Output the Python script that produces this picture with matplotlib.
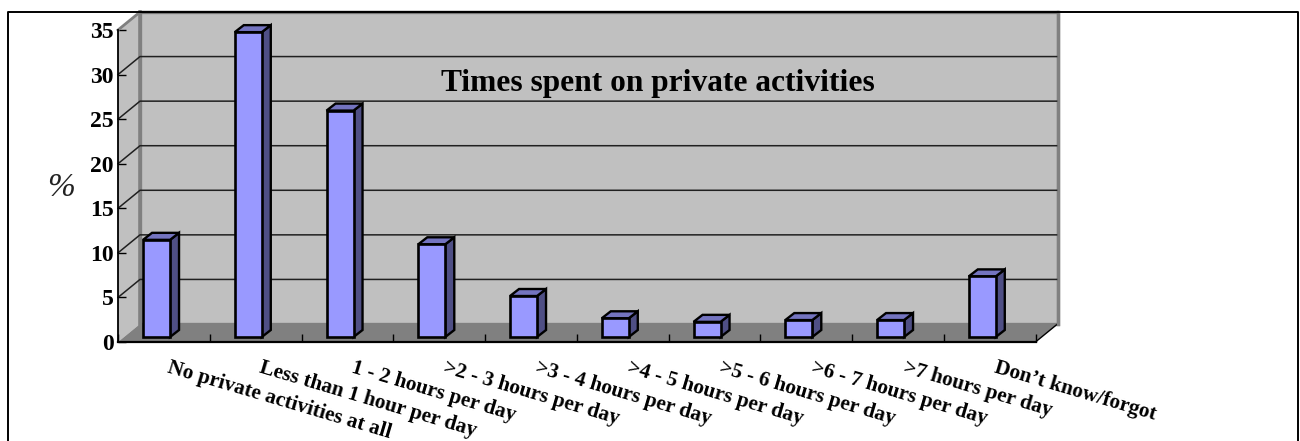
import matplotlib
matplotlib.use("Agg")
import matplotlib.pyplot as plt
from matplotlib.patches import Polygon
from matplotlib.lines import Line2D

categories = ["No private activities at all", "Less than 1 hour per day", "1 - 2 hours per day",
              ">2 - 3 hours per day", ">3 - 4 hours per day", ">4 - 5 hours per day",
              ">5 - 6 hours per day", ">6 - 7 hours per day", ">7 hours per day", "Don\u2019t know/forgot"]
values = [10.9, 34.2, 25.4, 10.4, 4.6, 2.1, 1.7, 1.9, 1.9, 6.8]
yticks = [0, 5, 10, 15, 20, 25, 30, 35]
title = "Times spent on private activities"

W, H = 1300, 441
plt.rcParams['font.family'] = ['Liberation Serif', 'DejaVu Serif']
fig = plt.figure(figsize=(W / 100, H / 100), dpi=100, facecolor='white')

L, R, B, T = 118, 1035.5, 342, 30
ax = fig.add_axes([L / W, 1 - B / H, (R - L) / W, (B - T) / H])
ax.set_xlim(-0.5, 9.5)
ax.set_ylim(0, 35)
ax.patch.set_visible(False)
for s in ax.spines.values():
    s.set_visible(False)

sx = (R - L) / 10      # px per category
sy = (B - T) / 35      # px per unit
DX, DY = 22 / sx, 18 / sy  # chart depth in data units
dx, dy = 9 / sx, 7 / sy    # bar depth
bw = 27 / sx
bo = 0.56                 # bar base lift
xo = -0.08                # bar offset

GRAY = '#c0c0c0'
WALL = '#808080'
FLOOR = '#808080'
x0, x1 = -0.5, 9.5
# walls and floor
ax.add_patch(Polygon([(x0 + DX, DY), (x1 + DX, DY), (x1 + DX, 35 + DY), (x0 + DX, 35 + DY)],
                     fc=GRAY, ec=WALL, lw=2.4, clip_on=False, zorder=1))
ax.add_patch(Polygon([(x0, 0), (x0 + DX, DY), (x0 + DX, 35 + DY), (x0, 35)],
                     fc=GRAY, ec='none', clip_on=False, zorder=1))
ax.add_patch(Polygon([(x0, 0), (x1, 0), (x1 + DX, DY), (x0 + DX, DY)],
                     fc=FLOOR, ec='none', clip_on=False, zorder=1.5))
ax.plot([x0 + DX] * 2, [DY, 35 + DY], color=WALL, lw=2.6, clip_on=False, zorder=1.6)
ax.plot([x1, x1 + DX], [0, DY], color='black', lw=1, clip_on=False, zorder=1.6)
ax.plot([x1 + DX] * 2, [DY, 35 + DY], color=WALL, lw=2.4, clip_on=False, zorder=1.6)
ax.plot([x0 + DX, x1 + DX], [35 + DY] * 2, color='#303030', lw=1.6, clip_on=False, zorder=1.7)

# gridlines
for t in yticks[1:-1]:
    ax.plot([x0, x0 + DX, x1 + DX - 0.01], [t, t + DY, t + DY], color='#202020', lw=1.1,
            clip_on=False, zorder=2)
ax.plot([x0, x0 + DX], [35, 35 + DY], color=WALL, lw=2, clip_on=False, zorder=2)

# front axes
ax.plot([x0, x0], [0, 35], color='black', lw=1.3, clip_on=False, zorder=3)
ax.plot([x0, x1], [0, 0], color='black', lw=1.6, clip_on=False, zorder=3)
ax.set_yticks(yticks)
ax.set_yticklabels([str(t) for t in yticks], fontsize=17, fontweight='bold')
ax.tick_params(axis='y', length=6, width=1, direction='in', pad=3, color='black')
ax.set_xticks([i - 0.5 for i in range(11)])
ax.set_xticklabels([])
ax.tick_params(axis='x', length=6, width=1, direction='in', color='black')

# bars
for i, v in enumerate(values):
    l = i + xo - bw / 2
    r = l + bw
    b, t = bo, bo + v
    ax.add_patch(Polygon([(r, b), (r + dx, b + dy), (r + dx, t + dy), (r, t)],
                         fc='#4f4f85', ec='black', lw=1.7, joinstyle='miter', zorder=5, clip_on=False))
    ax.add_patch(Polygon([(l, t), (r, t), (r + dx, t + dy), (l + dx, t + dy)],
                         fc='#7474c0', ec='black', lw=1.7, joinstyle='miter', zorder=5, clip_on=False))
    ax.bar(i + xo, v, width=bw, bottom=b, color='#9999ff', edgecolor='black', linewidth=1.9, zorder=6, clip_on=False)

# category labels (anchored at their left end, rotated)
label_px = [(171, 358), (263, 358), (355, 358), (447, 358), (539, 358), (631, 358), (723, 358), (815, 358), (907, 358), (998, 358)]
for i, name in enumerate(categories):
    ax.annotate(name, xy=(i, 0), xycoords='data',
                xytext=(label_px[i][0] - (L + (i + 0.5) * sx), -(label_px[i][1] - B)),
                textcoords='offset pixels', rotation=-16.5, rotation_mode='anchor',
                ha='left', va='top', fontsize=15.3, fontweight='bold', annotation_clip=False, zorder=7)

fig.text(658 / W, 1 - 84 / H, title, ha='center', va='center', fontsize=22.6, fontweight='bold', color='black', zorder=10)
fig.text(61 / W, 1 - 188 / H, "%", ha='center', va='center', fontsize=24, style='italic', color='#222222')

# outer frame (open at the bottom)
fig.add_artist(Line2D([7.5 / W, 7.5 / W, 1298 / W, 1298 / W], [0, 1 - 11.5 / H, 1 - 11.5 / H, 0],
                      color='black', lw=1.4))

fig.savefig('out.png', dpi=100)
